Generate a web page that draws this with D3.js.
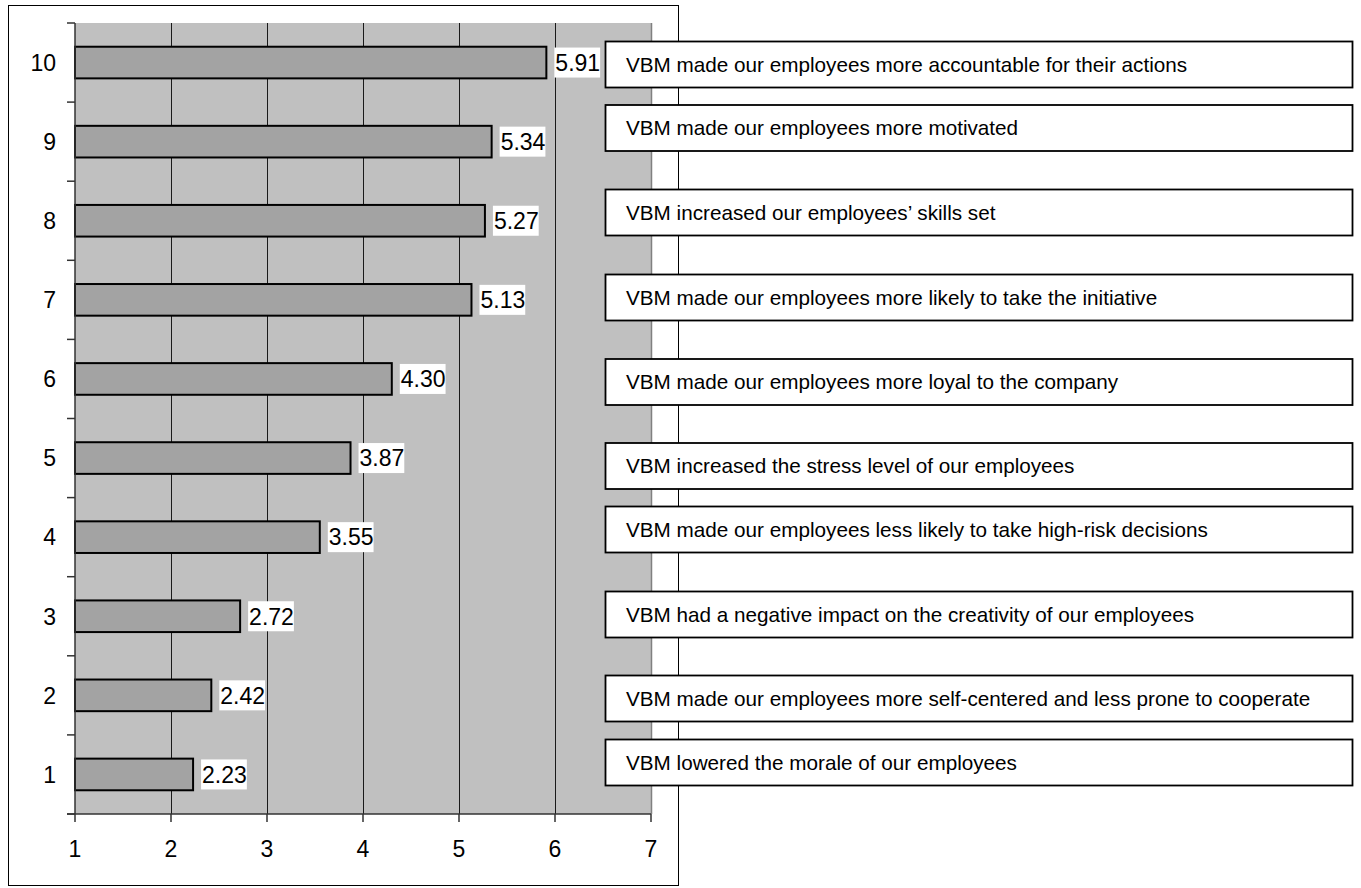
<!DOCTYPE html>
<html>
<head>
<meta charset="utf-8">
<script src="https://cdn.jsdelivr.net/npm/d3@7/dist/d3.min.js"></script>
<style>
  html, body { margin: 0; padding: 0; background: #ffffff; }
  svg { display: block; font-family: "Liberation Sans", Arial, sans-serif; }
</style>
</head>
<body>
<svg id="chart" width="1361" height="888"></svg>
<script>
// Item numbers (bottom to top) and their mean scores
const items = [1, 2, 3, 4, 5, 6, 7, 8, 9, 10];
const scores = [2.23, 2.42, 2.72, 3.55, 3.87, 4.30, 5.13, 5.27, 5.34, 5.91];
const xTicks = [1, 2, 3, 4, 5, 6, 7];

// Statement for each item, listed top to bottom
const statements = [
  "VBM made our employees more accountable for their actions",
  "VBM made our employees more motivated",
  "VBM increased our employees\u2019 skills set",
  "VBM made our employees more likely to take the initiative",
  "VBM made our employees more loyal to the company",
  "VBM increased the stress level of our employees",
  "VBM made our employees less likely to take high-risk decisions",
  "VBM had a negative impact on the creativity of our employees",
  "VBM made our employees more self-centered and less prone to cooperate",
  "VBM lowered the morale of our employees"
];
// Vertical centre of each statement box
const statementY = [64.5, 128, 212.5, 297.5, 382, 466, 529.5, 614.5, 698.5, 762.5];

const svg = d3.select("#chart");

// Outer chart frame
svg.append("rect")
  .attr("x", 8.5).attr("y", 5.5)
  .attr("width", 670).attr("height", 880)
  .attr("fill", "#ffffff").attr("stroke", "#000000").attr("stroke-width", 1);

const plot = { left: 75, right: 651, top: 23, bottom: 814 };

const x = d3.scaleLinear().domain([1, 7]).range([plot.left, plot.right]);
const y = d3.scaleBand()
  .domain(items.slice().reverse())
  .range([plot.top, plot.bottom])
  .paddingInner(0.6).paddingOuter(0.3);
const yEdges = d3.scaleBand().domain(items.slice().reverse()).range([plot.top, plot.bottom]);

// Plot background
svg.append("rect")
  .attr("x", plot.left).attr("y", plot.top)
  .attr("width", plot.right - plot.left).attr("height", plot.bottom - plot.top)
  .attr("fill", "#c0c0c0");

// Vertical gridlines
svg.append("g")
  .selectAll("line")
  .data(xTicks.filter(t => t > 1 && t < 7))
  .join("line")
  .attr("x1", d => Math.round(x(d)) + 0.5).attr("x2", d => Math.round(x(d)) + 0.5)
  .attr("y1", plot.top).attr("y2", plot.bottom)
  .attr("stroke", "#1a1a1a").attr("stroke-width", 1);

// Right edge of plot area
svg.append("line")
  .attr("x1", plot.right + 0.5).attr("x2", plot.right + 0.5)
  .attr("y1", plot.top).attr("y2", plot.bottom)
  .attr("stroke", "#808080").attr("stroke-width", 1.5);

// Bars
svg.append("g")
  .selectAll("rect")
  .data(items.map((it, i) => ({ item: it, v: scores[i] })))
  .join("rect")
  .attr("x", x(1))
  .attr("y", d => y(d.item))
  .attr("width", d => x(d.v) - x(1))
  .attr("height", y.bandwidth())
  .attr("fill", "#a3a3a3")
  .attr("stroke", "#000000").attr("stroke-width", 2);

// Y axis: line, tick marks on band edges, item numbers
const yAxisG = svg.append("g");
yAxisG.append("line")
  .attr("x1", plot.left).attr("x2", plot.left)
  .attr("y1", plot.top).attr("y2", plot.bottom)
  .attr("stroke", "#333333").attr("stroke-width", 1.5);
const edges = items.slice().reverse().map(d => yEdges(d)).concat([plot.bottom]);
yAxisG.selectAll("line.tick")
  .data(edges)
  .join("line").attr("class", "tick")
  .attr("x1", plot.left - 8).attr("x2", plot.left)
  .attr("y1", d => d).attr("y2", d => d)
  .attr("stroke", "#333333").attr("stroke-width", 1.5);
yAxisG.selectAll("text")
  .data(items)
  .join("text")
  .attr("x", 56)
  .attr("y", d => yEdges(d) + yEdges.bandwidth() / 2)
  .attr("dy", "0.36em")
  .attr("text-anchor", "end")
  .attr("font-size", 23)
  .attr("fill", "#000")
  .text(d => d);

// X axis
const xAxisG = svg.append("g");
xAxisG.append("line")
  .attr("x1", plot.left - 8).attr("x2", plot.right)
  .attr("y1", plot.bottom).attr("y2", plot.bottom)
  .attr("stroke", "#333333").attr("stroke-width", 1.5);
xAxisG.selectAll("line.tick")
  .data(xTicks)
  .join("line").attr("class", "tick")
  .attr("x1", d => x(d)).attr("x2", d => x(d))
  .attr("y1", plot.bottom).attr("y2", plot.bottom + 8)
  .attr("stroke", "#333333").attr("stroke-width", 1.5);
xAxisG.selectAll("text")
  .data(xTicks)
  .join("text")
  .attr("x", d => x(d))
  .attr("y", 849)
  .attr("dy", "0.36em")
  .attr("text-anchor", "middle")
  .attr("font-size", 23)
  .attr("fill", "#000")
  .text(d => d);

// Value labels on white backgrounds
const labels = svg.append("g")
  .selectAll("g")
  .data(items.map((it, i) => ({ item: it, v: scores[i] })))
  .join("g");
labels.each(function (d) {
  const g = d3.select(this);
  const cx = x(d.v) + 9;
  const cy = y(d.item) + y.bandwidth() / 2;
  const t = g.append("text")
    .attr("x", cx).attr("y", cy)
    .attr("dy", "0.36em")
    .attr("font-size", 23)
    .attr("fill", "#000")
    .text(d.v.toFixed(2));
  const w = t.node().getComputedTextLength();
  g.insert("rect", "text")
    .attr("x", cx - 1).attr("y", cy - 15)
    .attr("width", w + 1).attr("height", 30)
    .attr("fill", "#ffffff");
});

// Statement boxes on the right
const boxes = svg.append("g")
  .selectAll("g")
  .data(statements.map((s, i) => ({ s, cy: statementY[i] })))
  .join("g");
boxes.append("rect")
  .attr("x", 605.5).attr("y", d => d.cy - 23)
  .attr("width", 747).attr("height", 46)
  .attr("fill", "#ffffff").attr("stroke", "#000000").attr("stroke-width", 1.8);
boxes.append("text")
  .attr("x", 626).attr("y", d => d.cy)
  .attr("dy", "0.36em")
  .attr("font-size", 20.7)
  .attr("fill", "#000")
  .text(d => d.s);
</script>
</body>
</html>
